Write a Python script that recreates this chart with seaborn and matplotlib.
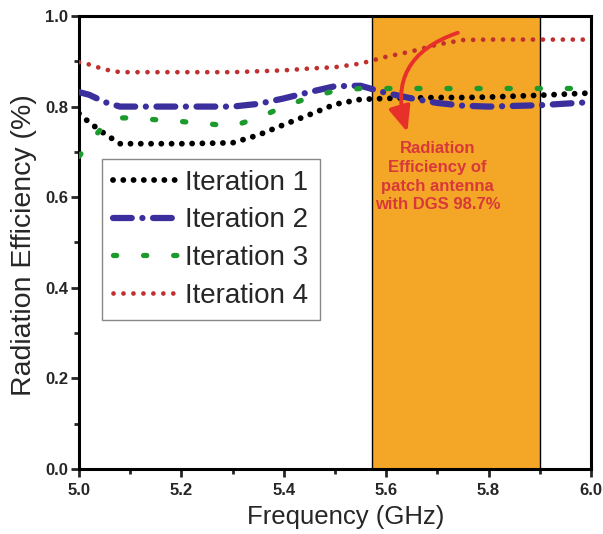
import numpy as np
import pandas as pd
import matplotlib
matplotlib.use("Agg")
import matplotlib.pyplot as plt
from matplotlib.ticker import MultipleLocator, FormatStrFormatter
import seaborn as sns

sns.set_style("white")
plt.rcParams['font.family'] = ['Liberation Sans', 'DejaVu Sans']

# Data
freq = [5.0, 5.02, 5.05, 5.08, 5.1, 5.2, 5.3, 5.35, 5.4, 5.45,
        5.5, 5.55, 5.6, 5.65, 5.7, 5.75, 5.8, 5.9, 6.0]
iter1 = [0.785, 0.765, 0.74, 0.718, 0.718, 0.718, 0.72, 0.737, 0.76, 0.782,
         0.805, 0.816, 0.818, 0.819, 0.82, 0.82, 0.821, 0.825, 0.83]
iter2 = [0.832, 0.826, 0.81, 0.80, 0.80, 0.80, 0.80, 0.806, 0.818, 0.832,
         0.845, 0.846, 0.83, 0.818, 0.808, 0.802, 0.80, 0.803, 0.81]
iter3 = [0.69, 0.72, 0.76, 0.775, 0.775, 0.767, 0.757, 0.775, 0.80, 0.82,
         0.835, 0.84, 0.84, 0.84, 0.84, 0.84, 0.84, 0.84, 0.84]
iter4 = [0.898, 0.893, 0.882, 0.876, 0.876, 0.876, 0.876, 0.878, 0.88, 0.884,
         0.887, 0.895, 0.91, 0.922, 0.937, 0.947, 0.948, 0.948, 0.948]
labels = ['Iteration 1', 'Iteration 2', 'Iteration 3', 'Iteration 4']
band = [5.572, 5.90]

fig = plt.figure(figsize=(6.03, 5.34), dpi=100)
ax = fig.add_axes([0.131, 0.122, 0.849, 0.848])

# highlighted band
ax.axvspan(band[0], band[1], facecolor='#F4A627', edgecolor='black', lw=1, zorder=0)

styles = [
    (iter1, 'black', 4.2, (0, (0.01, 1.75))),
    (iter2, '#3b2f9e', 4.5, (0, (3.0, 1.7, 0.01, 1.7))),
    (iter3, '#1c9a2e', 3.8, (0, (0.6, 5.1))),
    (iter4, '#c0302e', 3.4, (0, (0.01, 2.1))),
]
for (vals, col, lw, ls), lab in zip(styles, labels):
    sns.lineplot(x=freq, y=vals, ax=ax, color=col, lw=lw, linestyle=ls,
                 dash_capstyle='round', solid_capstyle='round', label=lab, zorder=3)

ax.set_xlim(5.0, 6.0)
ax.set_ylim(0.0, 1.0)
ax.xaxis.set_major_locator(MultipleLocator(0.2))
ax.xaxis.set_minor_locator(MultipleLocator(0.1))
ax.yaxis.set_major_locator(MultipleLocator(0.2))
ax.yaxis.set_minor_locator(MultipleLocator(0.1))
ax.xaxis.set_major_formatter(FormatStrFormatter('%.1f'))
ax.yaxis.set_major_formatter(FormatStrFormatter('%.1f'))
ax.tick_params(which='major', direction='out', length=6, width=2, labelsize=12, pad=2)
ax.tick_params(axis='x', which='major', pad=4)
ax.tick_params(which='minor', direction='out', length=3.5, width=2)
ax.tick_params(bottom=True, left=True, top=False, right=False)
ax.tick_params(which='minor', bottom=True, left=True)
for lbl in ax.get_xticklabels() + ax.get_yticklabels():
    lbl.set_fontweight('bold')
for sp in ax.spines.values():
    sp.set_linewidth(2.2)
    sp.set_color('black')

ax.set_xlabel('Frequency (GHz)', fontsize=18.5)
ax.xaxis.set_label_coords(0.52, -0.079)
ax.set_ylabel('Radiation Efficiency (%)', fontsize=20.5)
ax.yaxis.set_label_coords(-0.083, 0.495)

handles = ax.get_lines()[:4]
leg = ax.legend(handles=handles, labels=labels, loc='upper left',
                bbox_to_anchor=(0.045, 0.685), borderaxespad=0, fontsize=20,
                handlelength=2.3, handletextpad=0.3, labelspacing=0.42,
                borderpad=0.4, fancybox=False, frameon=True)
leg.get_frame().set_edgecolor('#888888')
leg.get_frame().set_linewidth(1.0)
leg.get_frame().set_alpha(1)

ax.annotate('', xy=(5.643, 0.738), xytext=(5.745, 0.965),
            arrowprops=dict(arrowstyle='-|>,head_length=0.7,head_width=0.3',
                            color='#e8302a', lw=2.8, mutation_scale=22,
                            connectionstyle='arc3,rad=0.5'), zorder=4)
ax.text(5.70, 0.645, 'Radiation\nEfficiency of\npatch antenna\nwith DGS 98.7%',
        ha='center', va='center', fontsize=12, fontweight='bold',
        color='#d8383a', linespacing=1.3, zorder=4)

fig.savefig('out.png', dpi=100)
